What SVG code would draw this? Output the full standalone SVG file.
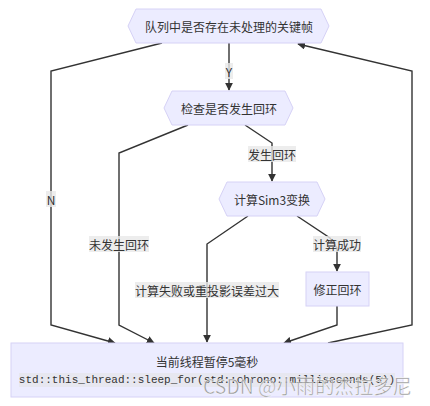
<svg xmlns="http://www.w3.org/2000/svg" width="430" height="406" viewBox="0 0 430 406">
<defs>
<marker id="arr" viewBox="0 0 10 10" refX="9" refY="5" markerWidth="8" markerHeight="8" markerUnits="userSpaceOnUse" orient="auto">
<path d="M0,0 L10,5 L0,10 z" fill="#333"/>
</marker>
</defs>
<style>
.node{fill:#ECECFF;stroke:#d6d2f6;stroke-width:1}
.t{font-family:"Noto Sans CJK SC","Noto Sans",sans-serif;font-size:12px;fill:#333;text-anchor:middle;dominant-baseline:central}
.e{fill:none;stroke:#333;stroke-width:1.4;marker-end:url(#arr)}
.lb{fill:#e8e8e8;fill-opacity:0.8}
.code{font-family:"Liberation Mono","DejaVu Sans Mono",monospace;font-size:11px;fill:#333;text-anchor:middle;dominant-baseline:central}
</style>
<rect width="430" height="406" fill="#fff"/>
<g id="connectors">
<path class="e" d="M229,43 L229,90"/>
<path class="e" d="M162,43 L51,71 L51,325 L115,343"/>
<path class="e" d="M188,125 L119,153 L119,325 L154,343"/>
<path class="e" d="M245,125 L272,143 L272,181"/>
<path class="e" d="M248,216 L207,244 L207,342"/>
<path class="e" d="M297,216 L330,238 L337,248 L337,271"/>
<path class="e" d="M337,306 L337,325 L284,343"/>
<path class="e" d="M328,343 L412,325 L412,71 L298,44"/>
<g id="labels">
<rect class="lb" x="225" y="63" width="8" height="16"/><text class="t" x="229" y="71">Y</text>
<rect class="lb" x="46" y="191" width="10" height="16"/><text class="t" x="51" y="199">N</text>
<rect class="lb" x="89" y="236" width="60" height="16"/><text class="t" x="119" y="244">未发生回环</text>
<rect class="lb" x="248" y="146" width="48" height="16"/><text class="t" x="272" y="154">发生回环</text>
<rect class="lb" x="135" y="282" width="144" height="16"/><text class="t" x="207" y="290">计算失败或重投影误差过大</text>
<rect class="lb" x="313" y="236" width="48" height="16"/><text class="t" x="337" y="244">计算成功</text>
</g>
</g>
<g id="n1">
<polygon class="node" points="128,26 136,9 321,9 329,26 321,43 136,43"/>
<text class="t" x="229" y="26">队列中是否存在未处理的关键帧</text>
</g>
<g id="n2">
<polygon class="node" points="164,108 172,91 285,91 293,108 285,125 172,125"/>
<text class="t" x="229" y="108">检查是否发生回环</text>
</g>
<g id="n3">
<polygon class="node" points="219,199 227,182 317,182 325,199 317,216 227,216"/>
<text class="t" x="272" y="199">计算Sim3变换</text>
</g>
<g id="n4">
<rect class="node" x="306" y="272" width="63" height="34"/>
<text class="t" x="337.5" y="289">修正回环</text>
</g>
<g id="n5">
<rect class="node" x="11" y="343" width="392" height="54"/>
<text class="t" x="207" y="361">当前线程暂停5毫秒</text>
<rect x="19" y="373" width="376" height="14" fill="#e6e6ec" fill-opacity="0.8"/>
<text class="code" x="207" y="380">std::this_thread::sleep_for(std::chrono::milliseconds(5))</text>
</g>
<text x="203" y="394" font-family="Noto Sans CJK SC,Noto Sans,sans-serif" font-size="20" textLength="209" lengthAdjust="spacingAndGlyphs" fill="#8a8a8a" fill-opacity="0.85" stroke="#ffffff" stroke-width="0.6" stroke-opacity="0.8">CSDN @小雨的杰拉多尼</text>
</svg>
